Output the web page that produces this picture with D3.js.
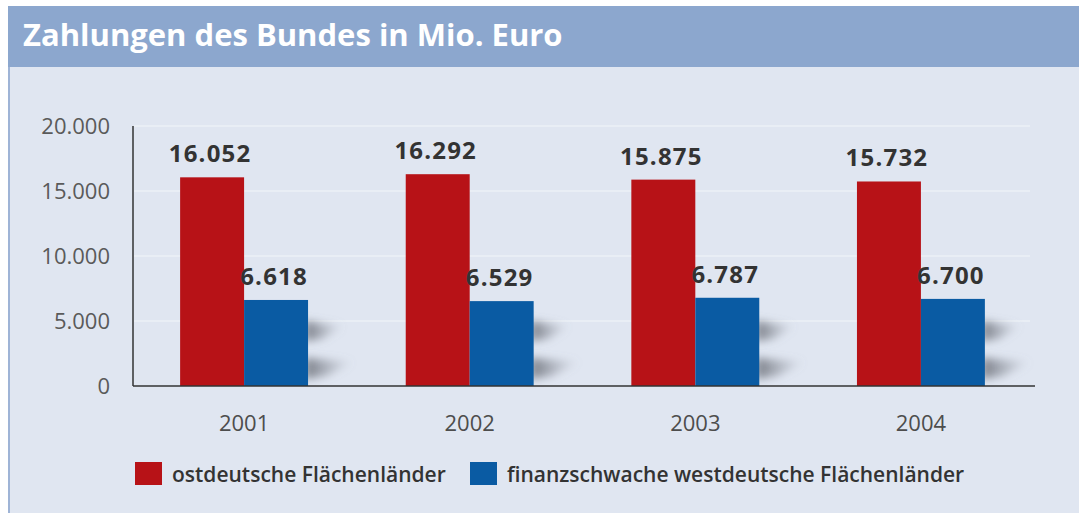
<!DOCTYPE html>
<html>
<head>
<meta charset="utf-8">
<script src="https://cdn.jsdelivr.net/npm/d3@7"></script>
<style>
  html, body { margin: 0; padding: 0; background: #fff; }
  svg { display: block; font-family: "Open Sans", "Noto Sans", sans-serif; }
</style>
</head>
<body>
<div id="chart"></div>
<script>
const title = "Zahlungen des Bundes in Mio. Euro";
const years = ["2001", "2002", "2003", "2004"];
const ost = [16052, 16292, 15875, 15732];
const west = [6618, 6529, 6787, 6700];
const seriesNames = ["ostdeutsche Flächenländer", "finanzschwache westdeutsche Flächenländer"];
const yTicks = [0, 5000, 10000, 15000, 20000];

const width = 1079, height = 513;
const colors = ["#b71217", "#0a5ba3"];
const fmt = d3.format(",.0f");
const de = v => fmt(v).replace(/,/g, ".");

const svg = d3.select("#chart").append("svg")
  .attr("width", width).attr("height", height);

const defs = svg.append("defs");
defs.append("filter").attr("id", "blur")
  .attr("x", "-50%").attr("y", "-100%").attr("width", "200%").attr("height", "300%")
  .append("feGaussianBlur").attr("stdDeviation", 4.5);
const grad = defs.append("linearGradient").attr("id", "shade")
  .attr("x1", 0).attr("x2", 1).attr("y1", 0).attr("y2", 0);
grad.append("stop").attr("offset", 0).attr("stop-color", "#666a73").attr("stop-opacity", 0.85);
grad.append("stop").attr("offset", 1).attr("stop-color", "#8d929c").attr("stop-opacity", 0);

// panel
svg.append("rect").attr("x", 8).attr("y", 6).attr("width", width - 8).attr("height", height - 6)
  .attr("fill", "#e0e6f1");
svg.append("rect").attr("x", 8).attr("y", 6).attr("width", 2).attr("height", height - 6)
  .attr("fill", "#9fb4d6");
svg.append("rect").attr("x", 8).attr("y", 6).attr("width", width - 8).attr("height", 61)
  .attr("fill", "#8ca7ce");
svg.append("text").attr("x", 23).attr("y", 46)
  .attr("fill", "#fff").attr("font-size", 31).attr("font-weight", 700)
  .text(title);

// scales
const x0 = d3.scaleBand().domain(years).range([135, 1030]).paddingInner(0.433).paddingOuter(0.2);
const x1 = d3.scaleBand().domain([0, 1]).range([0, x0.bandwidth()]);
const y = d3.scaleLinear().domain([0, 20000]).range([386, 126]);

// faint grid
svg.append("g").selectAll("line").data(yTicks.slice(1)).join("line")
  .attr("x1", 134).attr("x2", 1030)
  .attr("y1", d => y(d)).attr("y2", d => y(d))
  .attr("stroke", "#f2f5fa").attr("stroke-opacity", 0.5).attr("stroke-width", 2);

// y axis
const yAxis = svg.append("g").attr("transform", "translate(133,0)")
  .call(d3.axisLeft(y).tickValues(yTicks).tickSize(0).tickPadding(23).tickFormat(de));
yAxis.select(".domain").attr("stroke", "#333").attr("stroke-width", 1.5)
  .attr("d", `M0,${y(20000)}V${y(0)}`);
yAxis.selectAll("text").attr("font-size", 22).attr("fill", "#5a5a5a")
  .attr("font-family", "Open Sans, sans-serif");

// shadows behind blue bars
const groups = svg.append("g").selectAll("g").data(years).join("g")
  .attr("transform", d => `translate(${x0(d)},0)`);

groups.each(function () {
  const g = d3.select(this);
  const bx = x1(1) + x1.bandwidth();
  const base = y(0);
  g.append("path")
    .attr("d", `M${bx - 3},${base - 65} L${bx + 36},${base - 60} L${bx + 14},${base - 47} L${bx - 3},${base - 45} Z`)
    .attr("fill", "url(#shade)").attr("filter", "url(#blur)");
  g.append("path")
    .attr("d", `M${bx - 3},${base - 28} L${bx + 46},${base - 24} L${bx + 18},${base - 10} L${bx - 3},${base - 7} Z`)
    .attr("fill", "url(#shade)").attr("filter", "url(#blur)");
});

// x axis
svg.append("line").attr("x1", 133).attr("x2", 1035).attr("y1", y(0)).attr("y2", y(0))
  .attr("stroke", "#333").attr("stroke-width", 1.5);

// bars
groups.selectAll("rect.bar").data((d, i) => [ost[i], west[i]]).join("rect")
  .attr("class", "bar")
  .attr("x", (d, j) => x1(j))
  .attr("y", d => y(d))
  .attr("width", x1.bandwidth())
  .attr("height", d => y(0) - y(d))
  .attr("fill", (d, j) => colors[j]);

// value labels
groups.selectAll("text.val").data((d, i) => [ost[i], west[i]]).join("text")
  .attr("class", "val")
  .attr("x", (d, j) => x1(j) + x1.bandwidth() / 2 - 2)
  .attr("y", d => y(d) - 15)
  .attr("text-anchor", "middle")
  .attr("font-size", 24).attr("font-weight", 700).attr("fill", "#333")
  .attr("letter-spacing", 1.2)
  .text(de);

// year labels
svg.append("g").attr("transform", `translate(0,${y(0)})`)
  .call(d3.axisBottom(x0).tickSize(0).tickPadding(29))
  .call(g => g.select(".domain").remove())
  .selectAll("text").attr("font-size", 22).attr("fill", "#4d4d4d")
  .attr("font-family", "Open Sans, sans-serif");

// legend
const legendX = [135, 470];
const legend = svg.append("g").selectAll("g").data(seriesNames).join("g")
  .attr("transform", (d, i) => `translate(${legendX[i]},462)`);
legend.append("rect").attr("width", 27).attr("height", 23)
  .attr("fill", (d, i) => colors[i]);
legend.append("text").attr("x", 37).attr("y", 20)
  .attr("font-size", 21).attr("font-weight", 600).attr("fill", "#333")
  .text(d => d);
</script>
</body>
</html>
